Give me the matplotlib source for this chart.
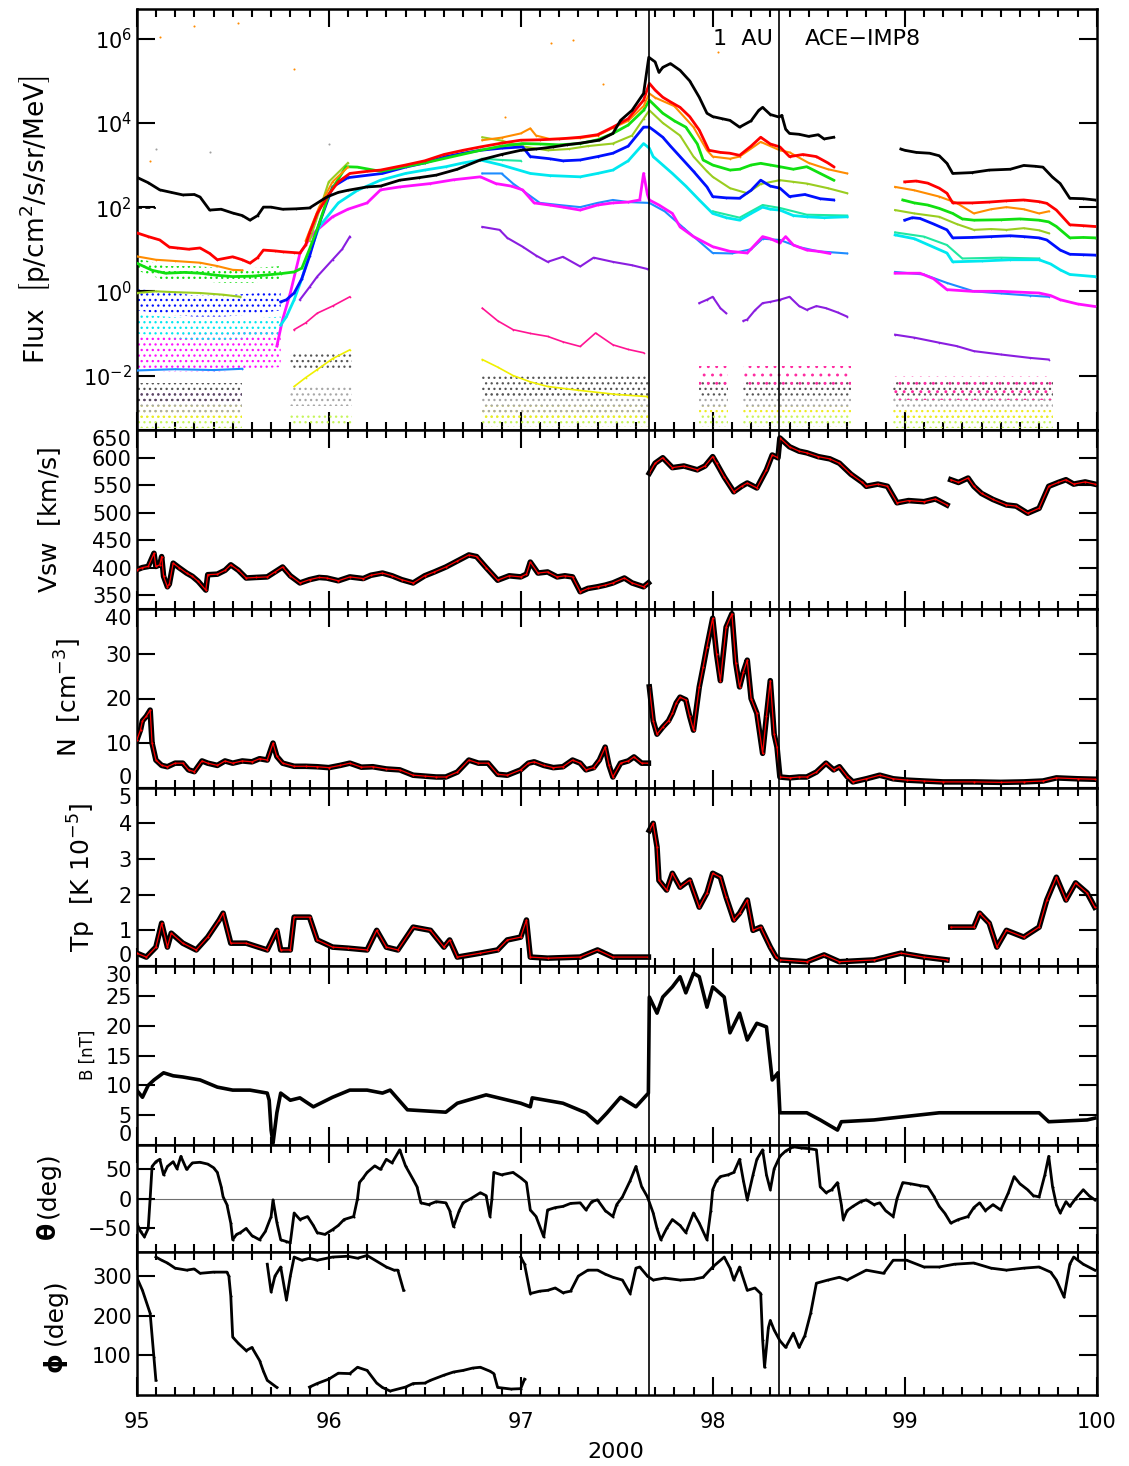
import numpy as np
import matplotlib
matplotlib.use('Agg')
import matplotlib.pyplot as plt
from matplotlib.ticker import MultipleLocator, FixedLocator, NullLocator, LogFormatterSciNotation

plt.rcParams['font.family'] = ['DejaVu Sans']
plt.rcParams['mathtext.fontset'] = 'dejavusans'
plt.rcParams['hatch.linewidth'] = 0.9

nan = np.nan

# shock / discontinuity times (day of year 2000)
t_shock = [97.667, 98.344]

# ---------------- energetic particle flux, log10(p/cm2/s/sr/MeV) ----------------
flux_black = [(95.0, 2.71), (95.06, 2.58), (95.12, 2.41), (95.18, 2.35), (95.24, 2.29), (95.3, 2.3),
              (95.33, 2.24), (95.38, 1.93), (95.44, 1.95), (95.5, 1.86), (95.55, 1.8), (95.59, 1.69),
              (95.63, 1.8), (95.66, 2.0), (95.7, 2.0), (95.76, 1.95), (95.83, 1.96), (95.9, 1.98),
              (95.99, 2.24), (96.05, 2.35), (96.1, 2.4), (96.2, 2.48), (96.27, 2.5), (96.37, 2.64),
              (96.47, 2.7), (96.56, 2.76), (96.67, 2.9), (96.79, 3.12), (96.9, 3.25), (97.0, 3.35),
              (97.08, 3.38), (97.17, 3.43), (97.24, 3.48), (97.31, 3.52), (97.41, 3.59), (97.48, 3.75),
              (97.52, 4.06), (97.58, 4.3), (97.64, 4.7), (97.667, 5.56), (97.7, 5.45), (97.72, 5.2),
              (97.74, 5.32), (97.78, 5.41), (97.83, 5.25), (97.88, 5.0), (97.93, 4.61), (97.97, 4.23),
              (98.0, 4.15), (98.05, 4.1), (98.09, 4.06), (98.14, 3.9), (98.2, 4.05), (98.24, 4.3),
              (98.26, 4.37), (98.3, 4.2), (98.345, 4.14), (98.36, 4.18), (98.38, 3.85), (98.4, 3.75),
              (98.45, 3.73), (98.5, 3.68), (98.55, 3.72), (98.58, 3.62), (98.63, 3.66), (nan, nan),
              (98.98, 3.38), (99.0, 3.35), (99.06, 3.3), (99.13, 3.28), (99.18, 3.22), (99.22, 3.04),
              (99.25, 2.8), (99.35, 2.82), (99.44, 2.88), (99.55, 2.9), (99.62, 2.99), (99.68, 2.97),
              (99.72, 2.95), (99.77, 2.71), (99.81, 2.56), (99.86, 2.21), (99.93, 2.2), (99.99, 2.17)]
flux_black_dash = [(95.0, 1.98), (95.1, 1.98)]

flux_red = [(95.0, 1.39), (95.06, 1.3), (95.12, 1.22), (95.17, 1.05), (95.21, 1.03), (95.27, 1.0),
            (95.33, 1.03), (95.38, 0.9), (95.42, 0.75), (95.5, 0.82), (95.55, 0.75), (95.59, 0.67),
            (95.63, 0.8), (95.66, 0.98), (95.72, 0.96), (95.76, 0.94), (95.82, 0.92), (95.85, 0.91),
            (95.88, 1.1), (95.9, 1.38), (95.94, 1.85), (96.0, 2.3), (96.05, 2.6), (96.11, 2.8),
            (96.2, 2.85), (96.27, 2.88), (96.4, 3.0), (96.5, 3.1), (96.6, 3.25), (96.7, 3.35),
            (96.79, 3.43), (96.9, 3.52), (97.0, 3.59), (97.1, 3.6), (97.2, 3.62), (97.31, 3.66),
            (97.4, 3.72), (97.48, 3.9), (97.56, 4.1), (97.64, 4.54), (97.67, 4.94), (97.7, 4.78),
            (97.74, 4.61), (97.78, 4.5), (97.83, 4.37), (97.88, 4.15), (97.93, 3.83), (97.98, 3.35),
            (98.04, 3.3), (98.09, 3.28), (98.14, 3.23), (98.2, 3.45), (98.25, 3.66), (98.3, 3.5),
            (98.35, 3.43), (98.4, 3.2), (98.47, 3.25), (98.54, 3.2), (98.6, 3.05), (98.63, 2.96),
            (nan, nan), (99.0, 2.6), (99.06, 2.62), (99.12, 2.57), (99.18, 2.45), (99.22, 2.33),
            (99.25, 2.1), (99.35, 2.1), (99.44, 2.12), (99.53, 2.15), (99.62, 2.17), (99.7, 2.13),
            (99.74, 2.09), (99.79, 1.93), (99.86, 1.58), (99.93, 1.56), (99.99, 1.54)]

flux_orange = [(95.0, 0.83), (95.1, 0.75), (95.2, 0.72), (95.33, 0.68), (95.42, 0.6), (95.5, 0.51),
               (95.55, 0.5), (nan, nan), (95.88, 1.2), (95.95, 2.0), (96.02, 2.6), (96.1, 2.95),
               (nan, nan), (96.8, 3.59), (96.9, 3.65), (97.0, 3.75), (97.05, 3.87), (97.08, 3.7),
               (97.15, 3.62), (97.31, 3.64), (97.4, 3.7), (97.48, 3.88), (97.56, 4.05), (97.64, 4.4),
               (97.67, 4.7), (97.7, 4.6), (97.8, 4.4), (97.9, 3.9), (97.97, 3.35), (98.0, 3.2),
               (98.09, 3.15), (98.14, 3.2), (98.25, 3.55), (98.35, 3.35), (98.4, 3.3), (98.5, 3.05),
               (98.6, 2.9), (98.7, 2.8), (nan, nan), (98.95, 2.48), (99.05, 2.4), (99.18, 2.25),
               (99.27, 2.1), (99.36, 1.85), (99.45, 1.95), (99.53, 2.0), (99.62, 1.95), (99.7, 1.85),
               (99.75, 1.9)]

flux_green = [(95.0, 0.67), (95.08, 0.5), (95.15, 0.43), (95.25, 0.45), (95.33, 0.43), (95.42, 0.38),
              (95.5, 0.35), (95.6, 0.36), (95.68, 0.39), (95.75, 0.42), (95.82, 0.46), (95.86, 0.55),
              (95.9, 1.0), (95.95, 1.6), (96.0, 2.3), (96.09, 2.96), (96.15, 2.95), (96.27, 2.85),
              (96.5, 3.05), (96.79, 3.35), (96.9, 3.45), (97.01, 3.51), (97.1, 3.5), (97.2, 3.48),
              (97.31, 3.51), (97.4, 3.6), (97.48, 3.75), (97.56, 3.95), (97.64, 4.3), (97.67, 4.54),
              (97.74, 4.23), (97.8, 4.05), (97.86, 3.9), (97.92, 3.5), (97.95, 3.12), (98.0, 3.0),
              (98.09, 2.88), (98.14, 2.9), (98.2, 3.0), (98.25, 3.04), (98.3, 3.0), (98.35, 2.96),
              (98.42, 2.9), (98.49, 2.96), (98.56, 2.8), (98.63, 2.64), (nan, nan), (98.99, 2.17),
              (99.05, 2.1), (99.12, 2.05), (99.18, 1.97), (99.25, 1.85), (99.3, 1.72), (99.36, 1.69),
              (99.5, 1.7), (99.6, 1.72), (99.7, 1.69), (99.75, 1.65), (99.79, 1.54), (99.86, 1.27),
              (99.93, 1.28), (99.99, 1.27)]

flux_olive = [(95.0, -0.04), (95.1, 0.0), (95.2, -0.02), (95.33, -0.04), (95.45, -0.08), (95.54, -0.13),
              (nan, nan), (95.9, 1.2), (96.0, 2.6), (96.1, 3.05), (nan, nan), (96.8, 3.66), (96.9, 3.58),
              (97.0, 3.45), (97.14, 3.35), (97.25, 3.38), (97.35, 3.45), (97.48, 3.51), (97.58, 3.7),
              (97.64, 4.1), (97.67, 4.3), (97.74, 4.0), (97.83, 3.7), (97.9, 3.2), (97.97, 2.85),
              (98.0, 2.72), (98.09, 2.45), (98.18, 2.33), (98.25, 2.55), (98.35, 2.64), (98.42, 2.6),
              (98.49, 2.56), (98.6, 2.45), (98.7, 2.33), (nan, nan), (98.95, 1.93), (99.05, 1.85),
              (99.18, 1.77), (99.27, 1.6), (99.36, 1.46), (99.45, 1.48), (99.53, 1.46), (99.62, 1.5),
              (99.7, 1.45), (99.75, 1.38)]

flux_blue = [(95.75, -0.25), (95.78, -0.2), (95.82, -0.04), (95.86, 0.3), (95.9, 0.83), (95.95, 1.6),
             (96.02, 2.48), (96.1, 2.7), (96.28, 2.8), (96.4, 2.95), (96.5, 3.05), (96.61, 3.2),
             (96.7, 3.28), (96.79, 3.35), (96.9, 3.4), (97.01, 3.43), (97.05, 3.2), (97.15, 3.15),
             (97.22, 3.1), (97.31, 3.12), (97.4, 3.2), (97.48, 3.28), (97.56, 3.45), (97.64, 3.9),
             (97.67, 3.9), (97.7, 3.8), (97.74, 3.66), (97.78, 3.45), (97.83, 3.2), (97.9, 2.85),
             (97.97, 2.48), (98.0, 2.25), (98.07, 2.22), (98.14, 2.21), (98.2, 2.4), (98.25, 2.64),
             (98.3, 2.5), (98.35, 2.45), (98.4, 2.25), (98.48, 2.3), (98.56, 2.2), (98.63, 2.17),
             (nan, nan), (99.0, 1.69), (99.04, 1.75), (99.08, 1.73), (99.15, 1.6), (99.22, 1.46),
             (99.25, 1.27), (99.35, 1.28), (99.45, 1.3), (99.55, 1.32), (99.62, 1.3), (99.7, 1.27),
             (99.74, 1.22), (99.81, 0.98), (99.86, 0.88), (99.93, 0.87), (99.99, 0.86)]

flux_cyan = [(95.75, -0.8), (95.78, -0.6), (95.82, -0.2), (95.86, 0.3), (95.9, 0.9), (95.95, 1.53),
             (96.05, 2.1), (96.15, 2.4), (96.27, 2.64), (96.4, 2.8), (96.5, 2.88), (96.61, 2.96),
             (96.7, 3.05), (96.79, 3.12), (96.9, 3.0), (97.05, 2.8), (97.15, 2.75), (97.31, 2.72),
             (97.4, 2.8), (97.48, 2.88), (97.56, 3.1), (97.64, 3.51), (97.67, 3.4), (97.69, 3.2),
             (97.74, 3.0), (97.79, 2.8), (97.86, 2.5), (97.93, 2.17), (98.0, 1.85), (98.07, 1.75),
             (98.14, 1.69), (98.2, 1.85), (98.26, 2.0), (98.3, 1.95), (98.35, 1.93), (98.42, 1.8),
             (98.49, 1.77), (98.58, 1.75), (98.7, 1.77), (nan, nan), (98.95, 1.34), (99.05, 1.25),
             (99.15, 1.05), (99.22, 0.91), (99.25, 0.7), (99.4, 0.72), (99.55, 0.75), (99.7, 0.75),
             (99.76, 0.65), (99.81, 0.51), (99.86, 0.4), (99.99, 0.35)]

flux_teal = [(96.8, 3.15), (96.9, 3.12), (97.0, 3.1), (nan, nan), (98.0, 1.9), (98.14, 1.75),
             (98.26, 2.05), (98.35, 1.98), (98.49, 1.82), (98.7, 1.8), (nan, nan), (98.95, 1.4),
             (99.1, 1.3), (99.22, 1.1), (99.3, 0.78), (99.5, 0.8), (99.7, 0.78)]

flux_magenta = [(95.73, -1.3), (95.76, -0.67), (95.8, -0.04), (95.85, 0.9), (95.92, 1.38), (96.02, 1.77),
                (96.1, 1.95), (96.2, 2.1), (96.27, 2.41), (96.37, 2.48), (96.53, 2.56), (96.65, 2.65),
                (96.79, 2.72), (96.87, 2.56), (96.95, 2.5), (97.01, 2.41), (97.07, 2.1), (97.15, 2.05),
                (97.22, 2.0), (97.31, 1.93), (97.4, 2.05), (97.48, 2.1), (97.56, 2.12), (97.62, 2.17),
                (97.64, 2.8), (97.66, 2.3), (97.67, 2.17), (97.72, 2.05), (97.79, 1.85), (97.83, 1.53),
                (97.9, 1.3), (98.0, 1.06), (98.09, 0.95), (98.18, 0.91), (98.26, 1.3), (98.3, 1.25),
                (98.35, 1.15), (98.38, 1.3), (98.42, 1.1), (98.49, 0.98), (98.55, 0.95), (98.61, 0.9),
                (nan, nan), (98.95, 0.43), (99.08, 0.43), (99.15, 0.3), (99.22, 0.04), (99.35, 0.0),
                (99.5, 0.0), (99.6, -0.02), (99.7, -0.04), (99.76, -0.1), (99.81, -0.2), (99.9, -0.3),
                (99.99, -0.36)]

flux_azure = [(95.0, -1.88), (95.2, -1.85), (95.4, -1.87), (95.55, -1.84), (nan, nan), (96.8, 2.8),
              (96.9, 2.8), (96.96, 2.56), (97.03, 2.33), (97.1, 2.1), (97.2, 2.05), (97.31, 2.0),
              (97.4, 2.1), (97.48, 2.17), (97.56, 2.12), (97.67, 2.1), (97.75, 1.9), (97.85, 1.5),
              (98.0, 0.91), (98.1, 0.9), (98.2, 1.0), (98.26, 1.25), (98.35, 1.22), (98.45, 1.05),
              (98.55, 0.95), (98.7, 0.9), (nan, nan), (98.95, 0.46), (99.1, 0.4), (99.22, 0.2),
              (99.36, 0.0), (99.5, -0.05), (99.65, -0.1), (99.75, -0.13)]

flux_violet = [(95.85, -0.2), (95.9, 0.1), (95.94, 0.35), (96.02, 0.75), (96.07, 1.0), (96.11, 1.3),
               (nan, nan), (96.8, 1.53), (96.89, 1.46), (96.93, 1.27), (97.01, 1.06), (97.08, 0.85),
               (97.14, 0.7), (97.22, 0.82), (97.31, 0.59), (97.38, 0.8), (97.48, 0.7), (97.58, 0.62),
               (97.66, 0.53), (nan, nan), (97.93, -0.28), (97.97, -0.2), (98.0, -0.13), (98.04, -0.4),
               (98.07, -0.52), (nan, nan), (98.16, -0.7), (98.18, -0.67), (98.22, -0.45), (98.26, -0.28),
               (98.3, -0.25), (98.35, -0.2), (98.4, -0.13), (98.45, -0.35), (98.49, -0.44), (98.54, -0.35),
               (98.59, -0.4), (98.65, -0.5), (98.7, -0.6), (nan, nan), (98.95, -1.03), (99.05, -1.1),
               (99.18, -1.22), (99.27, -1.3), (99.36, -1.42), (99.5, -1.5), (99.65, -1.58), (99.75, -1.62)]

flux_pink = [(95.82, -0.91), (95.88, -0.75), (95.94, -0.52), (96.02, -0.35), (96.11, -0.13), (nan, nan),
             (96.8, -0.4), (96.88, -0.7), (96.96, -0.91), (97.05, -1.0), (97.14, -1.07), (97.22, -1.2),
             (97.31, -1.31), (97.39, -0.99), (97.48, -1.27), (97.56, -1.38), (97.64, -1.46)]

flux_yellow = [(95.82, -2.26), (95.88, -2.05), (95.94, -1.86), (96.02, -1.6), (96.11, -1.39), (nan, nan),
               (96.8, -1.62), (96.88, -1.8), (96.96, -2.0), (97.05, -2.15), (97.14, -2.26), (97.3, -2.35),
               (97.5, -2.45), (97.66, -2.5)]

# noisy low-count channels: lower / upper edge in log10 flux
t_pre = [95.0, 95.15, 95.3, 95.45, 95.6, 95.75]
pre_green = [(0.5, 0.8), (0.25, 0.6), (0.25, 0.6), (0.2, 0.55), (0.2, 0.55), (0.3, 0.6)]
pre_blue = [(-0.45, 0.05), (-0.55, 0.0), (-0.6, -0.1), (-0.6, -0.1), (-0.55, -0.05), (-0.45, 0.0)]
pre_cyan = [(-1.0, -0.55), (-1.1, -0.6), (-1.15, -0.65), (-1.15, -0.65), (-1.1, -0.65), (-1.05, -0.6)]
pre_magenta = [(-1.85, -1.05), (-1.9, -1.05), (-1.9, -1.0), (-1.9, -1.0), (-1.85, -0.95), (-1.8, -0.95)]

t_low = [95.0, 95.55, nan, 95.8, 96.12, nan, 96.8, 97.67, nan, 97.93, 98.08, nan, 98.16, 98.72, nan, 98.94, 99.77]
low_dgray = [(-2.6, -2.17), (-2.6, -2.17), (nan, nan), (-1.86, -1.46), (-1.86, -1.46), (nan, nan),
             (-2.5, -2.02), (-2.5, -2.02), (nan, nan), (-2.5, -2.1), (-2.5, -2.1), (nan, nan),
             (-2.5, -2.1), (-2.5, -2.1), (nan, nan), (-2.55, -2.1), (-2.55, -2.1)]
low_gray = [(-2.9, -2.55), (-2.9, -2.55), (nan, nan), (-2.73, -2.26), (-2.73, -2.26), (nan, nan),
            (-2.88, -2.4), (-2.88, -2.4), (nan, nan), (-2.8, -2.5), (-2.8, -2.5), (nan, nan),
            (-2.8, -2.5), (-2.8, -2.5), (nan, nan), (-2.8, -2.5), (-2.8, -2.5)]
low_lime = [(-3.25, -2.95), (-3.25, -2.95), (nan, nan), (-3.2, -2.88), (-3.2, -2.88), (nan, nan),
            (-3.23, -2.88), (-3.23, -2.88), (nan, nan), (-3.23, -2.97), (-3.23, -2.97), (nan, nan),
            (-3.23, -2.97), (-3.23, -2.97), (nan, nan), (-3.25, -2.95), (-3.25, -2.95)]
low_yellow = [(-3.05, -2.7), (-3.05, -2.7), (nan, nan), (nan, nan), (nan, nan), (nan, nan),
              (-3.0, -2.7), (-3.0, -2.7), (nan, nan), (-2.97, -2.73), (-2.97, -2.73), (nan, nan),
              (-2.97, -2.73), (-2.97, -2.73), (nan, nan), (-3.0, -2.75), (-3.0, -2.75)]
low_pink = [(nan, nan), (nan, nan), (nan, nan), (nan, nan), (nan, nan), (nan, nan),
            (nan, nan), (nan, nan), (nan, nan), (-2.33, -1.78), (-2.33, -1.78), (nan, nan),
            (-2.33, -1.78), (-2.33, -1.78), (nan, nan), (-2.57, -2.02), (-2.57, -2.02)]
low_violet = [(-2.65, -2.4), (-2.65, -2.4), (nan, nan), (nan, nan), (nan, nan), (nan, nan),
              (nan, nan), (nan, nan), (nan, nan), (nan, nan), (nan, nan), (nan, nan),
              (nan, nan), (nan, nan), (nan, nan), (nan, nan), (nan, nan)]

# stray single counts
stray_orange = [(95.07, 3.09), (95.12, 6.03), (95.3, 6.3), (95.53, 6.38), (95.82, 5.29), (96.92, 4.14),
                (97.16, 5.9), (97.27, 5.98), (97.43, 4.92), (98.03, 5.68)]
stray_gray = [(95.1, 3.37), (95.38, 3.3), (96.0, 3.5)]

# ---------------- plasma ----------------
vsw = [(95.0, 396), (95.03, 400), (95.06, 402), (95.09, 426), (95.1, 402), (95.12, 405), (95.13, 420),
       (95.14, 384), (95.16, 365), (95.17, 370), (95.19, 408), (95.22, 400), (95.26, 390), (95.29, 384),
       (95.32, 375), (95.36, 359), (95.37, 387), (95.42, 388), (95.46, 395), (95.49, 405), (95.53, 395),
       (95.57, 381), (95.62, 382), (95.68, 383), (95.72, 392), (95.76, 401), (95.8, 385), (95.85, 372),
       (95.9, 378), (95.95, 382), (95.99, 381), (96.05, 376), (96.11, 383), (96.18, 380), (96.22, 386),
       (96.28, 390), (96.33, 385), (96.38, 378), (96.44, 372), (96.5, 385), (96.55, 392), (96.61, 401),
       (96.67, 412), (96.73, 423), (96.77, 420), (96.82, 400), (96.88, 377), (96.94, 385), (97.0, 383),
       (97.03, 388), (97.05, 410), (97.09, 390), (97.14, 392), (97.19, 383), (97.23, 385), (97.27, 383),
       (97.31, 356), (97.35, 362), (97.4, 365), (97.44, 368), (97.48, 372), (97.54, 381), (97.58, 372),
       (97.64, 365), (97.665, 372), (nan, nan), (97.67, 572), (97.7, 590), (97.74, 600), (97.79, 582),
       (97.85, 585), (97.92, 578), (97.96, 585), (98.0, 602), (98.02, 590), (98.06, 565), (98.11, 538),
       (98.15, 548), (98.18, 554), (98.23, 545), (98.28, 578), (98.31, 605), (98.34, 600), (98.35, 636),
       (98.4, 620), (98.45, 612), (98.49, 609), (98.55, 602), (98.61, 598), (98.66, 590), (98.72, 570),
       (98.78, 555), (98.8, 548), (98.86, 552), (98.91, 548), (98.96, 518), (99.02, 522), (99.1, 520),
       (99.16, 525), (99.22, 514), (nan, nan), (99.24, 560), (99.28, 555), (99.33, 563), (99.36, 548),
       (99.4, 535), (99.46, 524), (99.53, 514), (99.58, 512), (99.64, 499), (99.7, 508), (99.75, 548),
       (99.8, 555), (99.84, 560), (99.88, 552), (99.94, 556), (99.99, 552)]

dens = [(95.0, 10.6), (95.02, 13), (95.03, 15), (95.05, 16), (95.07, 17.4), (95.08, 10), (95.1, 6.2),
        (95.13, 5), (95.16, 4.7), (95.2, 5.5), (95.24, 5.5), (95.27, 4), (95.3, 3.6), (95.34, 6),
        (95.37, 5.5), (95.42, 5), (95.46, 6), (95.5, 5.5), (95.55, 6), (95.6, 5.8), (95.64, 6.5),
        (95.68, 6.2), (95.71, 10), (95.73, 7), (95.76, 5.5), (95.82, 4.8), (95.88, 4.8), (95.94, 4.7),
        (96.0, 4.5), (96.06, 5), (96.11, 5.5), (96.17, 4.6), (96.23, 4.7), (96.3, 4.2), (96.37, 4),
        (96.44, 2.8), (96.5, 2.6), (96.56, 2.4), (96.61, 2.4), (96.67, 3.5), (96.73, 6.2), (96.78, 5.5),
        (96.83, 5.5), (96.88, 3), (96.93, 2.8), (97.0, 4), (97.04, 5.5), (97.07, 5.8), (97.12, 5),
        (97.17, 4.5), (97.22, 4.7), (97.27, 6.2), (97.31, 5.5), (97.34, 4), (97.38, 4.5), (97.41, 6.2),
        (97.44, 9.1), (97.46, 5), (97.48, 2.4), (97.52, 5.5), (97.56, 6), (97.59, 6.9), (97.63, 5.5),
        (97.665, 5.5), (nan, nan), (97.67, 22.6), (97.69, 15), (97.71, 12), (97.74, 13.6), (97.77, 15),
        (97.79, 16.7), (97.81, 19), (97.83, 20.3), (97.86, 19.7), (97.88, 16), (97.9, 12.9), (97.93, 22.6),
        (97.95, 27), (97.97, 31.6), (98.0, 38), (98.02, 30), (98.04, 24), (98.07, 36), (98.1, 39),
        (98.12, 28), (98.14, 22.6), (98.16, 26), (98.18, 28.6), (98.2, 20), (98.23, 16.7), (98.26, 7.7),
        (98.28, 16), (98.3, 24), (98.32, 12), (98.335, 9.1), (98.35, 2.4), (98.4, 2.2), (98.45, 2.4),
        (98.49, 2.4), (98.54, 3.5), (98.59, 5.5), (98.63, 4), (98.66, 4.7), (98.7, 2.5), (98.73, 1.3),
        (98.8, 2.0), (98.87, 2.8), (98.94, 2.0), (99.01, 1.7), (99.1, 1.5), (99.2, 1.3), (99.36, 1.3),
        (99.5, 1.2), (99.62, 1.3), (99.72, 1.5), (99.79, 2.2), (99.9, 2.0), (99.99, 1.9)]

temp = [(95.0, 0.36), (95.05, 0.25), (95.1, 0.53), (95.13, 1.2), (95.16, 0.53), (95.18, 0.92),
        (95.24, 0.64), (95.31, 0.45), (95.37, 0.81), (95.43, 1.29), (95.45, 1.48), (95.49, 0.64),
        (95.57, 0.64), (95.68, 0.45), (95.73, 1.0), (95.75, 0.45), (95.8, 0.45), (95.82, 1.37),
        (95.9, 1.37), (95.94, 0.73), (96.02, 0.53), (96.1, 0.5), (96.2, 0.45), (96.25, 1.0),
        (96.3, 0.53), (96.36, 0.45), (96.44, 1.09), (96.53, 1.0), (96.6, 0.53), (96.63, 0.73),
        (96.67, 0.25), (96.79, 0.36), (96.88, 0.45), (96.93, 0.73), (97.0, 0.81), (97.03, 1.29),
        (97.05, 0.25), (97.14, 0.22), (97.31, 0.25), (97.4, 0.45), (97.48, 0.25), (97.665, 0.25),
        (nan, nan), (97.67, 3.8), (97.69, 4.0), (97.71, 3.34), (97.72, 2.4), (97.76, 2.13), (97.79, 2.6),
        (97.83, 2.21), (97.88, 2.41), (97.93, 1.65), (97.97, 2.05), (98.0, 2.6), (98.04, 2.49),
        (98.07, 1.93), (98.11, 1.29), (98.14, 1.48), (98.18, 1.85), (98.21, 1.0), (98.25, 1.09),
        (98.3, 0.53), (98.33, 0.25), (98.35, 0.17), (98.49, 0.12), (98.58, 0.31), (98.66, 0.12),
        (98.84, 0.17), (98.98, 0.36), (99.1, 0.25), (99.22, 0.17), (nan, nan), (99.24, 1.09),
        (99.36, 1.09), (99.39, 1.48), (99.44, 1.2), (99.48, 0.53), (99.53, 1.0), (99.62, 0.81),
        (99.7, 1.09), (99.74, 1.85), (99.79, 2.49), (99.84, 1.85), (99.89, 2.33), (99.95, 2.05),
        (99.99, 1.65)]

# ---------------- magnetic field ----------------
bmag = [(95.0, 9.2), (95.03, 8.0), (95.06, 10), (95.09, 10.9), (95.14, 12.1), (95.19, 11.6), (95.24, 11.4),
        (95.33, 10.9), (95.42, 9.7), (95.5, 9.2), (95.59, 9.2), (95.68, 8.7), (95.69, 7.5), (95.7, 2.5),
        (95.71, 0.3), (95.73, 5.4), (95.75, 8.7), (95.8, 7.5), (95.85, 7.9), (95.92, 6.4), (96.02, 8.0),
        (96.11, 9.2), (96.2, 9.2), (96.28, 8.7), (96.32, 9.2), (96.41, 5.9), (96.61, 5.5), (96.67, 7.0),
        (96.82, 8.4), (97.0, 7.0), (97.05, 6.4), (97.06, 7.9), (97.22, 7.0), (97.34, 5.4), (97.4, 3.7),
        (97.45, 5.4), (97.52, 8.0), (97.6, 6.4), (97.665, 8.7), (97.67, 24.8), (97.71, 22.1),
        (97.74, 24.8), (97.79, 26.5), (97.83, 28.2), (97.86, 25.5), (97.9, 28.8), (97.93, 28.2),
        (97.97, 23.1), (98.0, 26.5), (98.06, 24.8), (98.09, 18.8), (98.14, 22.1), (98.18, 17.6),
        (98.23, 20.4), (98.28, 19.8), (98.31, 10.9), (98.34, 12.1), (98.35, 5.4), (98.49, 5.4),
        (98.56, 4.2), (98.65, 2.5), (98.67, 3.9), (98.84, 4.2), (99.18, 5.4), (99.7, 5.4),
        (99.75, 3.9), (99.95, 4.2), (99.99, 4.5)]

theta = [(95.0, -41), (95.02, -55), (95.04, -64), (95.06, -50), (95.07, 0), (95.08, 54), (95.1, 62),
         (95.12, 66), (95.14, 40), (95.16, 54), (95.19, 62), (95.21, 50), (95.23, 71), (95.26, 49),
         (95.29, 60), (95.33, 61), (95.37, 58), (95.4, 52), (95.42, 44), (95.44, 20), (95.45, 3),
         (95.47, -10), (95.49, -41), (95.5, -69), (95.52, -60), (95.54, -57), (95.57, -50), (95.6, -62),
         (95.64, -69), (95.67, -55), (95.7, -30), (95.71, -2), (95.73, -40), (95.75, -69), (95.78, -72),
         (95.8, -74), (95.82, -24), (95.85, -35), (95.89, -30), (95.92, -45), (95.94, -57), (95.98, -60),
         (96.02, -52), (96.05, -45), (96.08, -35), (96.13, -30), (96.15, 0), (96.16, 27), (96.18, 35),
         (96.2, 44), (96.24, 55), (96.27, 49), (96.3, 66), (96.33, 60), (96.37, 82), (96.4, 55),
         (96.44, 32), (96.46, 20), (96.48, -7), (96.52, -10), (96.56, -5), (96.61, -7), (96.63, -20),
         (96.65, -47), (96.68, -20), (96.7, -7), (96.74, 0), (96.79, 10), (96.82, 5), (96.84, -30),
         (96.85, 0), (96.86, 44), (96.9, 40), (96.96, 44), (97.0, 35), (97.03, 27), (97.05, -19),
         (97.08, -30), (97.12, -64), (97.14, -19), (97.18, -15), (97.22, -13), (97.26, -8), (97.31, -7),
         (97.34, -19), (97.37, -5), (97.4, -2), (97.44, -20), (97.48, -30), (97.5, -10), (97.53, 3),
         (97.57, 30), (97.6, 54), (97.63, 20), (97.66, 3), (97.69, -24), (97.71, -50), (97.73, -69),
         (97.76, -50), (97.79, -35), (97.83, -45), (97.86, -57), (97.9, -24), (97.93, -41), (97.97, -69),
         (97.99, -20), (98.0, 15), (98.02, 30), (98.04, 37), (98.08, 40), (98.11, 44), (98.14, 66),
         (98.16, 30), (98.18, -2), (98.21, 40), (98.23, 66), (98.26, 82), (98.28, 40), (98.3, 15),
         (98.32, 50), (98.35, 71), (98.38, 80), (98.42, 87), (98.46, 85), (98.5, 84), (98.54, 82),
         (98.56, 20), (98.59, 10), (98.62, 15), (98.65, 27), (98.67, -10), (98.68, -35), (98.7, -20),
         (98.73, -13), (98.77, -5), (98.8, -2), (98.84, -10), (98.87, -7), (98.9, -20), (98.94, -30),
         (98.96, 0), (98.99, 27), (99.03, 25), (99.08, 22), (99.12, 20), (99.15, 5), (99.18, -13),
         (99.21, -25), (99.24, -41), (99.28, -35), (99.33, -30), (99.36, -15), (99.39, -7), (99.42, -20),
         (99.46, -10), (99.5, -19), (99.54, 10), (99.57, 37), (99.6, 25), (99.64, 15), (99.67, 5),
         (99.7, 3), (99.73, 40), (99.75, 71), (99.77, 20), (99.79, -10), (99.81, -24), (99.84, -5),
         (99.86, -13), (99.89, 0), (99.93, 15), (99.96, 5), (99.99, -2)]

phi = [(95.0, 297), (95.03, 264), (95.07, 206), (95.09, 95), (95.1, 37), (nan, nan),
       (95.1, 348), (95.13, 340), (95.16, 333), (95.2, 320), (95.26, 315), (95.3, 318), (95.33, 307),
       (95.4, 310), (95.47, 310), (95.48, 300), (95.49, 250), (95.5, 146), (95.53, 130), (95.57, 112),
       (95.6, 120), (95.64, 87), (95.66, 60), (95.68, 37), (95.73, 19), (nan, nan),
       (95.68, 330), (95.7, 260), (95.72, 300), (95.75, 323), (95.78, 240), (95.8, 300), (95.82, 348),
       (95.86, 340), (95.9, 345), (95.94, 340), (96.02, 348), (96.1, 350), (96.15, 345), (96.2, 352),
       (96.3, 323), (96.34, 315), (96.36, 315), (96.39, 264), (nan, nan),
       (95.9, 20), (95.94, 29), (96.0, 40), (96.05, 55), (96.11, 54), (96.15, 70), (96.2, 62),
       (96.25, 30), (96.28, 19), (96.32, 10), (96.4, 20), (96.44, 29), (96.5, 30), (96.53, 37),
       (96.6, 50), (96.65, 58), (96.7, 62), (96.75, 68), (96.79, 70), (96.84, 60), (96.86, 54),
       (96.88, 19), (96.95, 15), (97.0, 16), (97.02, 40), (nan, nan),
       (97.0, 348), (97.02, 330), (97.05, 256), (97.1, 262), (97.14, 264), (97.18, 270), (97.22, 258),
       (97.26, 262), (97.3, 300), (97.35, 315), (97.4, 315), (97.44, 305), (97.48, 297), (97.53, 290),
       (97.57, 256), (97.6, 320), (97.62, 323), (97.66, 300), (97.69, 290), (97.75, 295), (97.83, 290),
       (97.9, 292), (97.95, 297), (98.0, 323), (98.06, 348), (98.09, 320), (98.11, 290), (98.14, 323),
       (98.18, 264), (98.22, 270), (98.25, 256), (98.26, 140), (98.27, 70), (98.29, 170), (98.3, 188),
       (98.32, 164), (98.35, 137), (98.38, 120), (98.42, 156), (98.45, 120), (98.48, 150), (98.51, 206),
       (98.54, 282), (98.6, 290), (98.66, 297), (98.7, 290), (98.8, 315), (98.89, 307), (98.94, 340),
       (99.01, 340), (99.1, 323), (99.18, 323), (99.26, 330), (99.36, 333), (99.45, 320), (99.53, 315),
       (99.62, 320), (99.7, 323), (99.76, 310), (99.79, 290), (99.83, 247), (99.86, 330), (99.88, 348),
       (99.93, 330), (99.99, 315)]


def split(pairs):
    arr = np.array(pairs, dtype=float)
    return arr[:, 0], arr[:, 1]


def flux_line(ax, pairs, color, lw=2.0):
    t, lg = split(pairs)
    ax.plot(t, 10 ** lg, '-', color=color, lw=lw, marker='.', ms=2.5, mew=0, zorder=3)


def flux_band(ax, t, pairs, color, hatch='...', zorder=2):
    lo, hi = split(pairs)
    ax.fill_between(np.array(t, dtype=float), 10 ** lo, 10 ** hi, facecolor='none',
                    edgecolor=color, hatch=hatch, linewidth=0, zorder=zorder)


def set_yticks(ax, vals, labels, first_up=False, last_down=False):
    ax.yaxis.set_major_locator(FixedLocator(vals))
    ax.set_yticklabels(labels)
    labs = ax.get_yticklabels()
    if first_up:
        labs[0].set_va('bottom')
    if last_down:
        labs[-1].set_va('top')


fig = plt.figure(figsize=(11.29, 14.66), dpi=100)
W, H = 1129.0, 1466.0
x0, x1 = 136.7, 1096.7
edges = [9.3, 430.3, 609.3, 787.7, 966.0, 1145.0, 1252.3, 1395.0]
axes = []
for k in range(7):
    top, bot = edges[k], edges[k + 1]
    ax = fig.add_axes([x0 / W, 1 - bot / H, (x1 - x0) / W, (bot - top) / H])
    ax.set_xlim(95, 100)
    ax.xaxis.set_major_locator(MultipleLocator(1))
    ax.xaxis.set_minor_locator(MultipleLocator(0.1))
    ax.tick_params(axis='both', which='both', direction='in', top=True, right=True,
                   width=1.5, labelsize=15)
    ax.tick_params(axis='x', which='major', length=13)
    ax.tick_params(axis='x', which='minor', length=6)
    ax.tick_params(axis='y', which='major', length=13)
    ax.tick_params(axis='y', which='minor', length=0)
    for sp in ax.spines.values():
        sp.set_linewidth(1.8)
    if k < 6:
        ax.tick_params(axis='x', labelbottom=False)
    for ts in t_shock:
        ax.axvline(ts, color='k', lw=1.2, zorder=5)
    axes.append(ax)

ax_f, ax_v, ax_n, ax_t, ax_b, ax_th, ax_ph = axes

# --- flux panel ---
ax_f.set_yscale('log')
ax_f.set_ylim(5e-4, 5e6)
ax_f.yaxis.set_major_locator(FixedLocator([1e-2, 1e0, 1e2, 1e4, 1e6]))
ax_f.yaxis.set_minor_locator(NullLocator())
ax_f.yaxis.set_major_formatter(LogFormatterSciNotation())

flux_band(ax_f, t_low, low_lime, '#c6f55a')
flux_band(ax_f, t_low, low_yellow, '#f0ec20')
flux_band(ax_f, t_low, low_gray, '#a8a8a8')
flux_band(ax_f, t_low, low_violet, '#9a30d0')
flux_band(ax_f, t_low, low_dgray, '#555555')
flux_band(ax_f, t_low, low_pink, '#ff2aa0', '..')
flux_band(ax_f, t_pre, pre_magenta, '#ff10ff')
flux_band(ax_f, t_pre, pre_cyan, '#00e8f0')
flux_band(ax_f, t_pre, pre_blue, '#0010ff')
flux_band(ax_f, t_pre, pre_green, '#10e010')

flux_line(ax_f, flux_yellow, '#f0f000', lw=1.2)
flux_line(ax_f, flux_pink, '#ff1493', lw=1.2)
flux_line(ax_f, flux_violet, '#8a1ee0', lw=1.5)
flux_line(ax_f, flux_azure, '#1e8cff', lw=1.5)
flux_line(ax_f, flux_magenta, '#ff10ff')
flux_line(ax_f, flux_teal, '#20e8a0', lw=1.5)
flux_line(ax_f, flux_cyan, '#00e8f0')
flux_line(ax_f, flux_olive, '#9acd20', lw=1.5)
flux_line(ax_f, flux_blue, '#0010ff')
flux_line(ax_f, flux_green, '#10e010')
flux_line(ax_f, flux_orange, '#ff8c00', lw=1.5)
flux_line(ax_f, flux_red, '#ff0000')
flux_line(ax_f, flux_black, 'k')
t, lg = split(flux_black_dash)
ax_f.plot(t, 10 ** lg, '--', color='k', lw=1.2, dashes=(3, 2))

ts, lg = split(stray_orange)
ax_f.plot(ts, 10 ** lg, '.', color='#ff8c00', ms=3, mew=0)
ts, lg = split(stray_gray)
ax_f.plot(ts, 10 ** lg, '.', color='#a0a0a0', ms=3, mew=0)

ax_f.text(98.0, 1e6, '1  AU', fontsize=16, va='center', ha='left')
ax_f.text(98.48, 1e6, 'ACE\u2212IMP8', fontsize=16, va='center', ha='left')

# --- plasma panels: black samples with red averages ---
for ax, pairs in [(ax_v, vsw), (ax_n, dens), (ax_t, temp)]:
    t, v = split(pairs)
    ax.plot(t, v, '-', color='k', lw=4.0, zorder=3)
    ax.plot(t, v, '-', color='#ff0000', lw=0.9, marker='.', ms=3, mew=0, zorder=4)

ax_v.set_ylim(324, 650)
set_yticks(ax_v, [350, 400, 450, 500, 550, 600, 650], ['350', '400', '450', '500', '550', '600', '650'],
           last_down=True)
ax_n.set_ylim(0, 40)
set_yticks(ax_n, [0, 10, 20, 30, 40], ['0', '10', '20', '30', '40'], first_up=True, last_down=True)
ax_t.set_ylim(0, 5)
set_yticks(ax_t, [0, 1, 2, 3, 4, 5], ['0', '1', '2', '3', '4', '5'], first_up=True, last_down=True)

t, v = split(bmag)
ax_b.plot(t, v, '-', color='k', lw=2.6, zorder=3)
ax_b.set_ylim(0, 30)
set_yticks(ax_b, [0, 5, 10, 15, 20, 25, 30], ['0', '5', '10', '15', '20', '25', '30'],
           first_up=True, last_down=True)

t, v = split(theta)
ax_th.axhline(0, color='#707070', lw=0.8, zorder=1)
ax_th.plot(t, v, '-', color='k', lw=2.0, marker='.', ms=3, mew=0, zorder=3)
ax_th.set_ylim(-90, 90)
set_yticks(ax_th, [-50, 0, 50], ['\u221250', '0', '50'])

t, v = split(phi)
ax_ph.plot(t, v, '-', color='k', lw=2.0, marker='.', ms=3, mew=0, zorder=3)
ax_ph.set_ylim(0, 360)
set_yticks(ax_ph, [100, 200, 300], ['100', '200', '300'])
ax_ph.set_xticks([95, 96, 97, 98, 99, 100])
ax_ph.set_xticklabels(['95', '96', '97', '98', '99', '100'])
ax_ph.tick_params(axis='x', pad=12)


# --- axis titles ---
def ylab(x, y, s, size=18, weight='normal'):
    fig.text(x / W, 1 - y / H, s, rotation=90, ha='center', va='center', fontsize=size, fontweight=weight)


ylab(35, 220, r'Flux  $\left[\mathrm{p/cm^2/s/sr/MeV}\right]$', size=19)
ylab(50, 520, r'Vsw  $\left[\mathrm{km/s}\right]$')
ylab(68, 698, r'N  $\left[\mathrm{cm^{-3}}\right]$')
ylab(82, 877, r'Tp  $\left[\mathrm{K\ 10^{-5}}\right]$')
ylab(88, 1055, 'B [nT]', size=12)
ylab(48, 1230, '\u03b8', weight='bold')
ylab(48, 1185, '(deg)')
ylab(55, 1362, '\u03d5', weight='bold')
ylab(55, 1312, '(deg)')
fig.text(616 / W, 1 - 1452 / H, '2000', ha='center', va='center', fontsize=16)

fig.savefig('out.png', dpi=100)
